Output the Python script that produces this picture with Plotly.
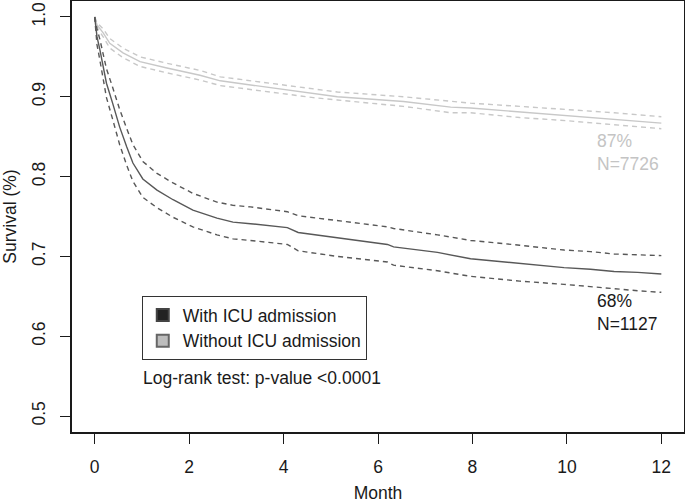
import plotly.graph_objects as go

# ICU group (Kaplan-Meier estimate and 95% CI)
icu_month = [0, 0.05, 0.11, 0.25, 0.38, 0.53, 0.68, 0.81, 1.02, 1.32, 1.66, 2.08, 2.59, 2.93, 3.3,
             4.08, 4.31, 5.14, 6.2, 6.33, 7.26, 7.96, 8.5, 9.0, 9.94, 10.5, 11.0, 11.5, 12.0]
icu_surv = [1.0, 0.975, 0.959, 0.917, 0.892, 0.862, 0.837, 0.817, 0.797, 0.783, 0.771, 0.758, 0.748, 0.743, 0.741,
            0.736, 0.730, 0.723, 0.715, 0.712, 0.705, 0.697, 0.694, 0.691, 0.686, 0.684, 0.681, 0.680, 0.678]
icu_upper = [1.0, 0.985, 0.972, 0.935, 0.912, 0.884, 0.860, 0.840, 0.819, 0.804, 0.792, 0.779, 0.768, 0.764, 0.762,
             0.756, 0.751, 0.745, 0.737, 0.735, 0.727, 0.720, 0.717, 0.714, 0.708, 0.706, 0.703, 0.702, 0.701]
icu_lower = [1.0, 0.965, 0.946, 0.899, 0.872, 0.840, 0.814, 0.794, 0.774, 0.761, 0.749, 0.737, 0.727, 0.722, 0.720,
             0.715, 0.707, 0.700, 0.693, 0.689, 0.682, 0.675, 0.672, 0.669, 0.665, 0.662, 0.659, 0.657, 0.655]

# Without ICU group
non_month = [0, 0.05, 0.18, 0.32, 0.6, 0.96, 1.53, 2.23, 2.66, 3.29, 4.63, 5.14, 6.54, 7.54, 7.96,
             9.0, 10.0, 11.0, 12.0]
non_surv = [1.0, 0.990, 0.980, 0.967, 0.955, 0.944, 0.936, 0.927, 0.920, 0.915, 0.905, 0.900, 0.894, 0.887, 0.886,
            0.881, 0.877, 0.872, 0.867]
non_upper = [1.0, 0.993, 0.985, 0.973, 0.961, 0.950, 0.942, 0.933, 0.925, 0.920, 0.910, 0.906, 0.900, 0.894, 0.892,
             0.888, 0.884, 0.880, 0.875]
non_lower = [1.0, 0.987, 0.975, 0.961, 0.949, 0.938, 0.930, 0.921, 0.914, 0.909, 0.899, 0.896, 0.888, 0.880, 0.880,
             0.874, 0.870, 0.865, 0.860]

x_ticks = [0, 2, 4, 6, 8, 10, 12]
y_ticks = [0.5, 0.6, 0.7, 0.8, 0.9, 1.0]
legend_labels = ["With ICU admission", "Without ICU admission"]

ICU_COL = "#585858"
NON_COL = "#c8c8c8"
FONT = "Liberation Sans, Arial, sans-serif"

fig = go.Figure()

def add_curve(xs, ys, color, dash=None):
    fig.add_trace(go.Scatter(x=xs, y=ys, mode="lines", showlegend=False, hoverinfo="skip",
                             line=dict(color=color, width=1.4, dash=dash if dash else "solid")))

add_curve(non_month, non_upper, NON_COL, "5px,4px")
add_curve(non_month, non_lower, NON_COL, "5px,4px")
add_curve(non_month, non_surv, NON_COL)
add_curve(icu_month, icu_upper, ICU_COL, "5px,4px")
add_curve(icu_month, icu_lower, ICU_COL, "5px,4px")
add_curve(icu_month, icu_surv, ICU_COL)

# legend entries
fig.add_trace(go.Scatter(x=[None], y=[None], mode="markers", name=legend_labels[0],
                         marker=dict(symbol="square", size=12, color="#222222",
                                     line=dict(color="#444444", width=1))))
fig.add_trace(go.Scatter(x=[None], y=[None], mode="markers", name=legend_labels[1],
                         marker=dict(symbol="square", size=12, color="#bdbdbd",
                                     line=dict(color="#666666", width=1))))

fig.add_annotation(x=10.6, y=0.830, xref="x", yref="y", text="87%<br>N=7726", showarrow=False,
                   xanchor="left", yanchor="middle", align="left",
                   font=dict(family=FONT, size=17.5, color="#c4c4c4"))
fig.add_annotation(x=10.6, y=0.630, xref="x", yref="y", text="68%<br>N=1127", showarrow=False,
                   xanchor="left", yanchor="middle", align="left",
                   font=dict(family=FONT, size=17.5, color="#1a1a1a"))
fig.add_annotation(x=0.112, y=0.125, xref="paper", yref="paper", text="Log-rank test: p-value <0.0001",
                   showarrow=False, xanchor="left", yanchor="middle",
                   font=dict(family=FONT, size=17.5, color="#1a1a1a"))

fig.update_layout(
    width=685, height=503,
    margin=dict(l=72, r=1, t=1, b=71),
    paper_bgcolor="white", plot_bgcolor="white",
    font=dict(family=FONT, size=17.5, color="#1a1a1a"),
    legend=dict(x=0.114, y=0.3155, xanchor="left", yanchor="top",
                bordercolor="#333333", borderwidth=1, bgcolor="white",
                font=dict(family=FONT, size=17.5, color="#1a1a1a"),
                itemsizing="constant", tracegroupgap=0),
    xaxis=dict(range=[-0.48, 12.48], tickvals=x_ticks, ticktext=[str(v) for v in x_ticks],
               showgrid=False, zeroline=False, showline=True, linecolor="#1a1a1a", linewidth=1.5,
               mirror=True, ticks="outside", ticklen=10, tickwidth=1.3, tickcolor="#1a1a1a",
               ticklabelstandoff=8, automargin=False,
               title=dict(text="Month", standoff=12, font=dict(size=17.5))),
    yaxis=dict(range=[0.48, 1.02], tickvals=y_ticks, ticktext=[f"{v:.1f}" for v in y_ticks],
               showgrid=False, zeroline=False, showline=True, linecolor="#1a1a1a", linewidth=1.5,
               mirror=True, ticks="outside", ticklen=10, tickwidth=1.3, tickcolor="#1a1a1a",
               tickangle=-90, ticklabelstandoff=8, automargin=False,
               title=dict(text="Survival (%)", standoff=10, font=dict(size=17.5))),
)

fig.write_html("out.html", config={"displayModeBar": False},
               post_script="document.body.style.margin='0';")
